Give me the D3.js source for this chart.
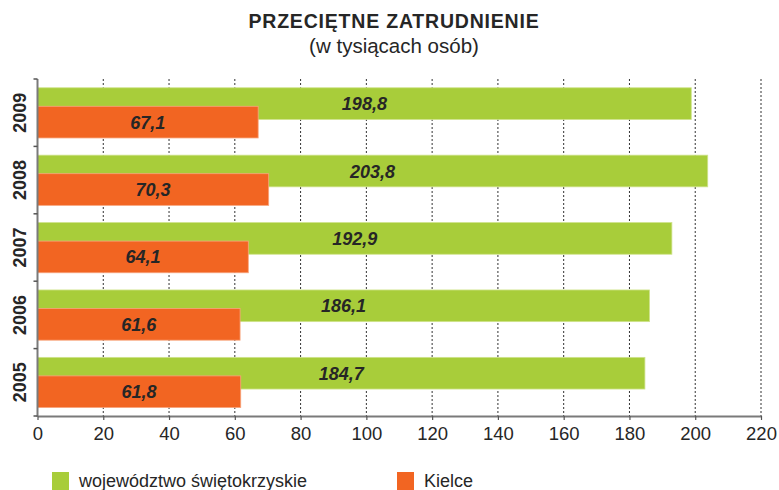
<!DOCTYPE html>
<html>
<head>
<meta charset="utf-8">
<script src="https://cdn.jsdelivr.net/npm/d3@7"></script>
<style>
  body { margin: 0; background: #fff; }
  text { font-family: "Liberation Sans", Arial, sans-serif; fill: #262626; }
</style>
</head>
<body>
<div id="Container"></div>
<script>
var years = ["2009", "2008", "2007", "2006", "2005"];
var wojewodztwo = [198.8, 203.8, 192.9, 186.1, 184.7];
var kielce = [67.1, 70.3, 64.1, 61.6, 61.8];
var xTicks = [0, 20, 40, 60, 80, 100, 120, 140, 160, 180, 200, 220];
var seriesNames = ["województwo świętokrzyskie", "Kielce"];
var seriesColors = ["#a8cd3a", "#f26522"];

var W = 779, H = 490;
var canvas = d3.select("#Container").append("svg")
    .attr("width", W)
    .attr("height", H);

var x = d3.scaleLinear().domain([0, 220]).range([37.5, 761]);
var y = d3.scaleBand().domain(years).range([79, 416]).paddingInner(0);
var bw = y.bandwidth();
var barH = bw * 0.47;

function fmt(v) { return d3.format(".1f")(v).replace(".", ","); }

// title
canvas.append("text")
    .attr("x", 394).attr("y", 27.7)
    .attr("text-anchor", "middle")
    .style("font-size", "19.5px").style("font-weight", "bold")
    .style("letter-spacing", "0.8px")
    .text("PRZECIĘTNE ZATRUDNIENIE");
canvas.append("text")
    .attr("x", 394).attr("y", 52.5)
    .attr("text-anchor", "middle")
    .style("font-size", "20.5px")
    .text("(w tysiącach osób)");

// grid (dotted)
canvas.selectAll("line.grid")
    .data(xTicks.filter(function(d) { return d > 0; }))
    .enter().append("line")
    .attr("class", "grid")
    .attr("x1", function(d) { return x(d); })
    .attr("x2", function(d) { return x(d); })
    .attr("y1", 79).attr("y2", 416)
    .attr("stroke", "#333")
    .attr("stroke-width", 1)
    .attr("stroke-dasharray", "2,2");

// bars
var rows = years.map(function(yr, i) {
    return { year: yr, woj: wojewodztwo[i], kie: kielce[i] };
});

canvas.selectAll("rect.woj").data(rows).enter().append("rect")
    .attr("class", "woj")
    .attr("x", x(0))
    .attr("y", function(d) { return y(d.year) + bw * 0.13; })
    .attr("width", function(d) { return x(d.woj) - x(0); })
    .attr("height", barH)
    .attr("fill", seriesColors[0])
    .attr("stroke", "#cfe38c").attr("stroke-width", 0.8);

canvas.selectAll("rect.kie").data(rows).enter().append("rect")
    .attr("class", "kie")
    .attr("x", x(0))
    .attr("y", function(d) { return y(d.year) + bw * 0.405; })
    .attr("width", function(d) { return x(d.kie) - x(0); })
    .attr("height", barH)
    .attr("fill", seriesColors[1])
    .attr("stroke", "#f8a57e").attr("stroke-width", 0.8);

// value labels
canvas.selectAll("text.vwoj").data(rows).enter().append("text")
    .attr("class", "vwoj")
    .attr("x", function(d) { return (x(0) + x(d.woj)) / 2; })
    .attr("y", function(d) { return y(d.year) + bw * 0.13 + barH / 2 + 6.5; })
    .attr("text-anchor", "middle")
    .style("font-size", "18px").style("font-weight", "bold").style("font-style", "italic")
    .text(function(d) { return fmt(d.woj); });

canvas.selectAll("text.vkie").data(rows).enter().append("text")
    .attr("class", "vkie")
    .attr("x", function(d) { return (x(0) + x(d.kie)) / 2; })
    .attr("y", function(d) { return y(d.year) + bw * 0.405 + barH / 2 + 6.5; })
    .attr("text-anchor", "middle")
    .style("font-size", "18px").style("font-weight", "bold").style("font-style", "italic")
    .text(function(d) { return fmt(d.kie); });

// bottom axis
var xax = canvas.append("g")
    .attr("transform", "translate(0,416)")
    .call(d3.axisBottom(x).tickValues(xTicks).tickSize(4).tickSizeOuter(0).tickFormat(d3.format("d")));
xax.select(".domain").attr("stroke", "#7a7a7a").attr("stroke-width", 2);
xax.selectAll(".tick line").attr("stroke", "#555").attr("stroke-width", 1.2);
xax.selectAll(".tick text")
    .attr("y", 11)
    .style("font-size", "18.5px")
    .style("font-family", "'Liberation Sans', Arial, sans-serif")
    .attr("fill", "#262626");

// left axis with ticks on band boundaries
canvas.append("line")
    .attr("x1", x(0)).attr("x2", x(0))
    .attr("y1", 79).attr("y2", 417)
    .attr("stroke", "#7a7a7a").attr("stroke-width", 2);
var bounds = years.map(function(d) { return y(d); }).concat([y.range()[1]]);
canvas.selectAll("line.ytick").data(bounds).enter().append("line")
    .attr("class", "ytick")
    .attr("x1", x(0) - 4).attr("x2", x(0))
    .attr("y1", function(d) { return d; })
    .attr("y2", function(d) { return d; })
    .attr("stroke", "#555").attr("stroke-width", 1.5);

// year labels (rotated)
canvas.selectAll("text.year").data(years).enter().append("text")
    .attr("class", "year")
    .attr("transform", function(d) { return "translate(25.5," + (y(d) + bw / 2) + ") rotate(-90)"; })
    .attr("text-anchor", "middle")
    .style("font-size", "18px").style("font-weight", "bold")
    .text(function(d) { return d; });

// legend
var legX = [52, 397];
var leg = canvas.selectAll("g.leg").data(seriesNames).enter().append("g")
    .attr("class", "leg")
    .attr("transform", function(d, i) { return "translate(" + legX[i] + ",472)"; });
leg.append("rect")
    .attr("width", 17).attr("height", 18)
    .attr("fill", function(d, i) { return seriesColors[i]; });
leg.append("text")
    .attr("x", 27).attr("y", 14.5)
    .style("font-size", "18px")
    .text(function(d) { return d; });
</script>
</body>
</html>
